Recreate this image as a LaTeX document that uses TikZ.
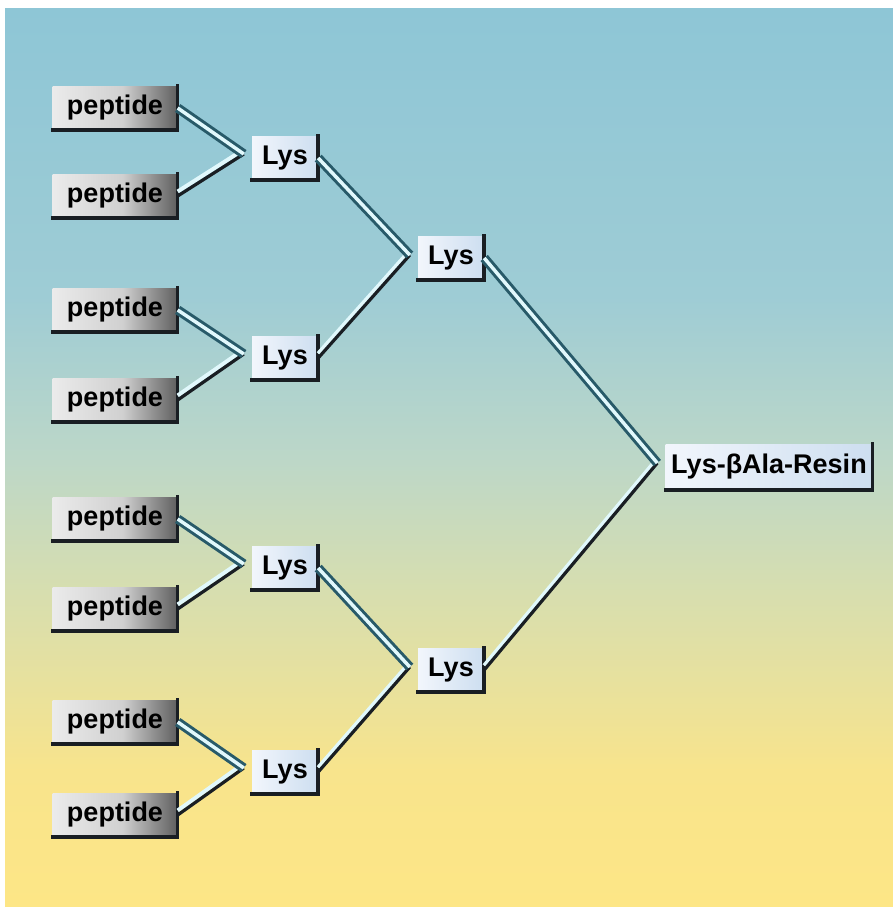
\documentclass[tikz,border=0pt]{standalone}
\usepackage{fontspec}
\setmainfont{Liberation Sans}
\usetikzlibrary{calc}
\definecolor{bgA}{RGB}{253,230,134}
\definecolor{bgB}{RGB}{248,228,140}
\definecolor{bgC}{RGB}{215,222,175}
\definecolor{bgD}{RGB}{188,215,200}
\definecolor{bgE}{RGB}{158,204,213}
\definecolor{bgF}{RGB}{142,198,214}
\definecolor{pepL}{RGB}{235,235,235}
\definecolor{pepM}{RGB}{208,208,208}
\definecolor{pepR}{RGB}{95,95,95}
\definecolor{lysL}{RGB}{242,246,252}
\definecolor{lysR}{RGB}{205,222,240}
\definecolor{edge}{RGB}{25,30,35}
\definecolor{tube}{RGB}{40,90,105}
\definecolor{tubein}{RGB}{225,248,252}
\pgfdeclareverticalshading{bgshade}{100bp}{color(0bp)=(bgA); color(25bp)=(bgA); color(32.5bp)=(bgB); color(42.5bp)=(bgC); color(50bp)=(bgD); color(59bp)=(bgE); color(75bp)=(bgF); color(100bp)=(bgF)}
\pgfdeclarehorizontalshading{pepshade}{100bp}{color(0bp)=(pepL); color(25bp)=(pepL); color(53bp)=(pepM); color(75bp)=(pepR); color(100bp)=(pepR)}
\pgfdeclarehorizontalshading{lysshade}{100bp}{color(0bp)=(lysL); color(25bp)=(lysL); color(75bp)=(lysR); color(100bp)=(lysR)}
\tikzset{
  box/.style={inner sep=0pt, font=\bfseries\fontsize{27}{30}\selectfont, text=black},
  pepbox/.style={box, shading=pepshade, minimum width=125, minimum height=44},
  lysbox/.style={box, shading=lysshade, minimum width=66, minimum height=44},
  finalbox/.style={box, shading=lysshade, minimum width=207, minimum height=46},
  shadowline/.style={edge, line width=3.5, line cap=rect},
  downline/.style={draw=tube, double=tubein, line width=3, double distance=3.5},
  upline/.style={draw=edge, line width=3.2},
  uplight/.style={draw=tubein, line width=4, transform canvas={yshift=4.5pt}}
}
\begin{document}
\begin{tikzpicture}[x=1pt,y=-1pt]
\useasboundingbox (0,0) rectangle (893,908);
\fill[white] (0,0) rectangle (893,908);
\shade[shading=bgshade] (5,8) rectangle (893,906);
% peptides
\node[pepbox] (p1) at (115,108) {peptide};
\node[pepbox] (p2) at (115,196) {peptide};
\node[pepbox] (p3) at (115,310) {peptide};
\node[pepbox] (p4) at (115,400) {peptide};
\node[pepbox] (p5) at (115,519) {peptide};
\node[pepbox] (p6) at (115,609) {peptide};
\node[pepbox] (p7) at (115,722) {peptide};
\node[pepbox] (p8) at (115,815) {peptide};
% first Lys layer
\node[lysbox] (l1) at (285,158) {Lys};
\node[lysbox] (l2) at (285,358) {Lys};
\node[lysbox] (l3) at (285,568) {Lys};
\node[lysbox] (l4) at (285,772) {Lys};
% second Lys layer
\node[lysbox] (m1) at (451,258) {Lys};
\node[lysbox] (m2) at (451,670) {Lys};
% final
\node[finalbox] (f) at (769,467) {Lys-βAla-Resin};
% box shadows
\foreach \n in {p1,p2,p3,p4,p5,p6,p7,p8,l1,l2,l3,l4,m1,m2,f}{
  \draw[shadowline] (\n.north east) -- (\n.south east) -- (\n.south west);
}
% convergence points
\coordinate (c1) at ($(l1.west)+(-8,-4)$);
\coordinate (c2) at ($(l2.west)+(-8,-4)$);
\coordinate (c3) at ($(l3.west)+(-8,-4)$);
\coordinate (c4) at ($(l4.west)+(-8,-4)$);
\coordinate (d1) at ($(m1.west)+(-8,-3)$);
\coordinate (d2) at ($(m2.west)+(-8,-3)$);
\coordinate (e) at ($(f.west)+(-8,-4)$);
% rising connectors: light upper band, dark lower edge
\foreach \a/\b in {p2/c1,p4/c2,p6/c3,p8/c4,l2/d1,l4/d2,m2/e}{
  \draw[uplight] (\a.east) -- (\b);
  \draw[upline] (\a.east) -- (\b);
}
% descending connectors
\draw[downline] (p1.east) -- (c1);
\draw[downline] (p3.east) -- (c2);
\draw[downline] (p5.east) -- (c3);
\draw[downline] (p7.east) -- (c4);
\draw[downline] (l1.east) -- (d1);
\draw[downline] (l3.east) -- (d2);
\draw[downline] (m1.east) -- (e);
\end{tikzpicture}
\end{document}
